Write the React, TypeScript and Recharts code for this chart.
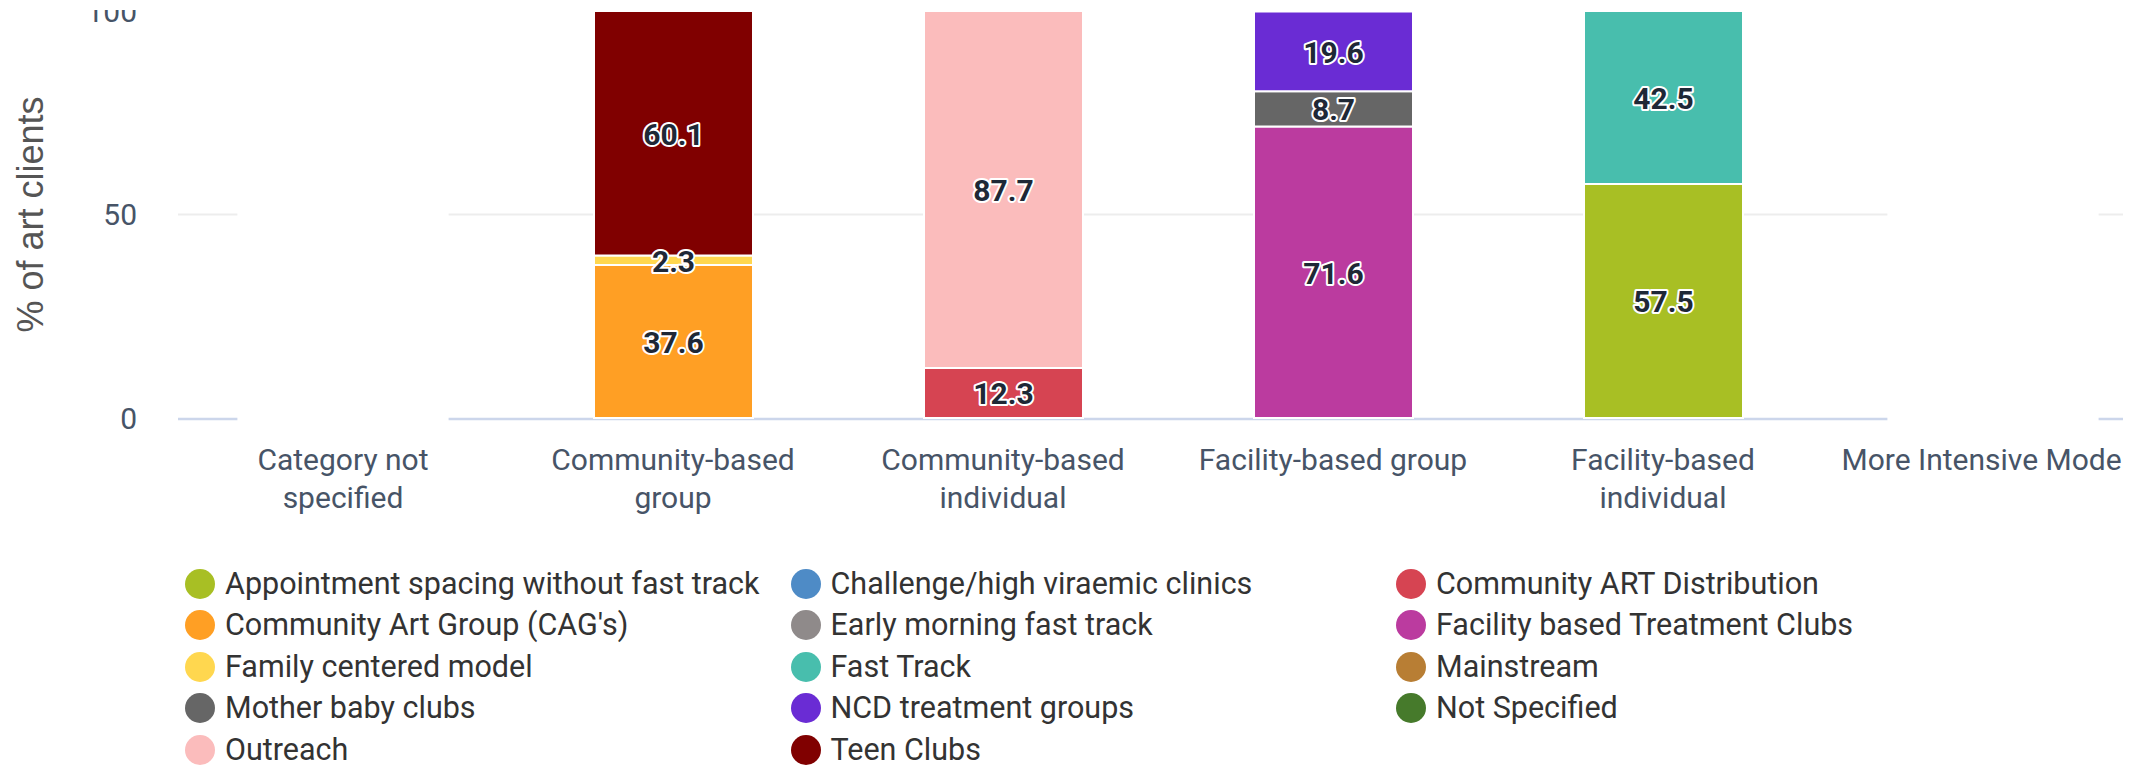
import { BarChart, Bar, XAxis, YAxis, CartesianGrid, Legend, LabelList } from "recharts";

// Categories on the x axis, and how each label wraps
const categories = [
  "Category not specified",
  "Community-based group",
  "Community-based individual",
  "Facility-based group",
  "Facility-based individual",
  "More Intensive Models",
];
const tickLines = [
  ["Category not", "specified"],
  ["Community-based", "group"],
  ["Community-based", "individual"],
  ["Facility-based group"],
  ["Facility-based", "individual"],
  ["More Intensive Models"],
];

const yTicks = [0, 50, 100];

// % of art clients per category (null = none)
const appointmentSpacing = [null, null, null, null, 57.5, null];
const challengeClinics = [null, null, null, null, null, null];
const communityArtDistribution = [null, null, 12.3, null, null, null];
const communityArtGroup = [null, 37.6, null, null, null, null];
const earlyMorningFastTrack = [null, null, null, null, null, null];
const facilityTreatmentClubs = [null, null, null, 71.6, null, null];
const familyCentered = [null, 2.3, null, null, null, null];
const fastTrack = [null, null, null, null, 42.5, null];
const mainstream = [null, null, null, null, null, null];
const motherBabyClubs = [null, null, null, 8.7, null, null];
const ncdGroups = [null, null, null, 19.6, null, null];
const notSpecified = [null, null, null, null, null, null];
const outreach = [null, null, 87.7, null, null, null];
const teenClubs = [null, 60.1, null, null, null, null];

const series = [
  { name: "Appointment spacing without fast track", color: "#a8bf24", values: appointmentSpacing },
  { name: "Challenge/high viraemic clinics", color: "#4e8bc6", values: challengeClinics },
  { name: "Community ART Distribution", color: "#d64452", values: communityArtDistribution },
  { name: "Community Art Group (CAG's)", color: "#ff9f24", values: communityArtGroup },
  { name: "Early morning fast track", color: "#8f8a8a", values: earlyMorningFastTrack },
  { name: "Facility based Treatment Clubs", color: "#bb3b9f", values: facilityTreatmentClubs },
  { name: "Family centered model", color: "#ffd74f", values: familyCentered },
  { name: "Fast Track", color: "#48bead", values: fastTrack },
  { name: "Mainstream", color: "#b87e34", values: mainstream },
  { name: "Mother baby clubs", color: "#666666", values: motherBabyClubs },
  { name: "NCD treatment groups", color: "#6a2cd4", values: ncdGroups },
  { name: "Not Specified", color: "#467a2b", values: notSpecified },
  { name: "Outreach", color: "#fbbcbc", values: outreach },
  { name: "Teen Clubs", color: "#800000", values: teenClubs },
];

const data = categories.map((category, i) => {
  const row: Record<string, string | number> = { category };
  series.forEach((s, j) => {
    const v = s.values[i];
    if (v != null) row[`s${j}`] = v;
  });
  return row;
});

// categories with no clients at all leave a break in the grid lines
const emptyCategories = categories.map((_, i) => series.every((s) => s.values[i] == null));

const PLOT_TOP = 51;
const PLOT_BOTTOM = 458;
const AXIS_TEXT = "#475467";

function CategoryTick({ x, y, payload }: any) {
  const lines = tickLines[categories.indexOf(payload.value)] ?? [payload.value];
  return (
    <text x={x} y={y} textAnchor="middle" fill={AXIS_TEXT} fontSize={30} fontFamily="Roboto">
      {lines.map((line, i) => (
        <tspan key={i} x={x} dy={i === 0 ? 21 : 38}>
          {line}
        </tspan>
      ))}
    </text>
  );
}

function gridLine(props: any) {
  const { x1, x2, y1, key } = props;
  if (Math.abs(y1 - PLOT_TOP) < 2) return <g key={key} />;
  const isBase = Math.abs(y1 - PLOT_BOTTOM) < 2;
  const band = (x2 - x1) / categories.length;
  const segs: [number, number][] = [];
  let start = x1;
  emptyCategories.forEach((empty, i) => {
    if (!empty) return;
    const c = x1 + band * (i + 0.5);
    segs.push([start, c - band * 0.32]);
    start = c + band * 0.32;
  });
  segs.push([start, x2]);
  const y = isBase ? y1 + 1 : y1;
  return (
    <g key={key}>
      {segs.map(([a, b], i) => (
        <line key={i} x1={a} x2={b} y1={y} y2={y} stroke={isBase ? "#ccd6eb" : "#ededed"} strokeWidth={isBase ? 2.5 : 2} />
      ))}
    </g>
  );
}

function valueLabel(p: any) {
  if (p.value == null) return null;
  return (
    <text
      x={p.x + p.width / 2}
      y={p.y + p.height / 2 + 1}
      textAnchor="middle"
      dominantBaseline="central"
      fill="#1e2836"
      stroke="#fff"
      strokeWidth={4}
      strokeLinejoin="round"
      style={{ paintOrder: "stroke" }}
      fontSize={30}
      fontWeight={700}
      fontFamily="Roboto"
    >
      {Number(p.value).toFixed(1)}
    </text>
  );
}

function LegendContent({ payload }: any) {
  return (
    <div
      style={{
        display: "grid",
        gridTemplateColumns: "repeat(3, 605.5px)",
        rowGap: 11.5,
        fontFamily: "Roboto",
        fontSize: 30.5,
        color: "#333333",
      }}
    >
      {(payload ?? []).map((item: any) => (
        <div key={item.value} style={{ display: "flex", alignItems: "center", height: 30, whiteSpace: "nowrap" }}>
          <span style={{ width: 30, height: 30, borderRadius: "50%", background: item.color, marginRight: 10, flex: "none" }} />
          <span style={{ lineHeight: "30px" }}>{item.value}</span>
        </div>
      ))}
    </div>
  );
}

function YTitle({ viewBox }: any) {
  const cy = viewBox.y + viewBox.height / 2;
  return (
    <text
      x={30}
      y={cy}
      transform={`rotate(-90, 30, ${cy})`}
      textAnchor="middle"
      dominantBaseline="central"
      fill="#555555"
      fontSize={36}
      fontFamily="Liberation Sans, Arial, sans-serif"
    >
      % of art clients
    </text>
  );
}

export default function App() {
  return (
    <div style={{ position: "absolute", left: 0, top: 10, width: 2123, height: 755, overflow: "hidden", background: "#fff" }}>
      <div style={{ position: "absolute", left: 0, top: -50 }}>
        <BarChart width={2200} height={810} data={data} margin={{ top: PLOT_TOP, right: 42, bottom: 810 - PLOT_BOTTOM - 100, left: 0 }}>
          <CartesianGrid vertical={false} horizontal={gridLine} />
          <XAxis
            dataKey="category"
            height={100}
            tickLine={false}
            tickSize={0}
            tickMargin={31}
            axisLine={false}
            tick={<CategoryTick />}
            interval={0}
          />
          <YAxis
            width={178}
            domain={[0, 100]}
            ticks={yTicks}
            axisLine={false}
            tickLine={false}
            tickSize={0}
            tickMargin={41}
            tick={{ fill: AXIS_TEXT, fontSize: 30, fontFamily: "Roboto" }}
            label={<YTitle />}
          />
          <Legend
            verticalAlign="middle"
            content={<LegendContent />}
            wrapperStyle={{ left: 185, top: 608.5, width: 1817, height: 196 }}
          />
          {series.map((s, j) => (
            <Bar
              key={s.name}
              dataKey={`s${j}`}
              name={s.name}
              stackId="a"
              fill={s.color}
              stroke="#fff"
              strokeWidth={2}
              barSize={159}
              isAnimationActive={false}
            >
              <LabelList dataKey={`s${j}`} content={valueLabel} />
            </Bar>
          ))}
        </BarChart>
      </div>
    </div>
  );
}
